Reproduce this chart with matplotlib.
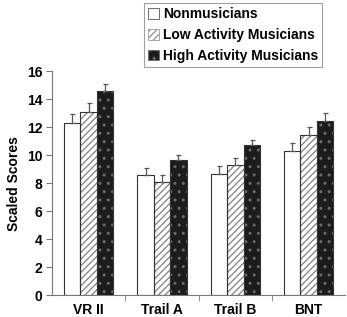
import matplotlib
matplotlib.use("Agg")
import matplotlib.pyplot as plt
import numpy as np
from matplotlib.patches import Patch

plt.rcParams['font.family'] = ['Liberation Sans', 'DejaVu Sans']
plt.rcParams['font.weight'] = 'bold'
plt.rcParams['hatch.linewidth'] = 1.0

categories = ["VR II", "Trail A", "Trail B", "BNT"]
series = ["Nonmusicians", "Low Activity Musicians", "High Activity Musicians"]
means = {
    "Nonmusicians": [12.3, 8.55, 8.64, 10.3],
    "Low Activity Musicians": [13.1, 8.07, 9.29, 11.4],
    "High Activity Musicians": [14.6, 9.64, 10.7, 12.45],
}
errors = {
    "Nonmusicians": [0.62, 0.5, 0.56, 0.57],
    "Low Activity Musicians": [0.6, 0.53, 0.47, 0.6],
    "High Activity Musicians": [0.48, 0.36, 0.37, 0.53],
}
yticks = [0, 2, 4, 6, 8, 10, 12, 14, 16]

fig = plt.figure(figsize=(3.47, 3.17), dpi=100)
ax = fig.add_axes([0.150, 0.069, 0.845, 0.707])

x = np.arange(len(categories))
w = 0.225
offsets = [-w, 0, w]
styles = [
    dict(face="white", hatch=None, hcolor=None),
    dict(face="white", hatch="/////", hcolor="#8a8a8a"),
    dict(face="#1c1c1c", hatch="..", hcolor="#6a6a6a"),
]
for s, off, st in zip(series, offsets, styles):
    vals = means[s]
    ax.bar(x + off, vals, width=w, color=st["face"], hatch=st["hatch"],
           edgecolor=st["hcolor"] if st["hcolor"] else st["face"], linewidth=0, zorder=2)
    ax.bar(x + off, vals, width=w, fill=False, edgecolor="#333333", linewidth=0.8, zorder=3)
    ax.errorbar(x + off, vals, yerr=[np.zeros(len(vals)), errors[s]], fmt="none",
                ecolor="#555555", elinewidth=0.9, capsize=1.8, capthick=0.9, zorder=4)

ax.set_xlim(-0.5, 3.5)
ax.set_ylim(0, 16)
ax.set_yticks(yticks)
ax.set_yticklabels([str(t) for t in yticks], fontsize=10, fontweight="bold")
ax.set_xticks(x)
ax.set_xticklabels(categories, fontsize=10, fontweight="bold")
ax.tick_params(axis="x", length=0, pad=6)
ax.set_xticks([0.5, 1.5, 2.5], minor=True)
ax.tick_params(axis="x", which="minor", length=4, direction="out", color="#777777")
ax.tick_params(axis="y", length=4, direction="out", color="#777777", pad=3)
for sp in ["top", "right"]:
    ax.spines[sp].set_visible(False)
for sp in ["left", "bottom"]:
    ax.spines[sp].set_color("#777777")
    ax.spines[sp].set_linewidth(0.8)
ax.set_ylabel("Scaled Scores", fontsize=10, fontweight="bold", labelpad=4)

handles = [
    Patch(facecolor="white", edgecolor="#555555", linewidth=0.6),
    Patch(facecolor="white", edgecolor="#9a9a9a", hatch="/////", linewidth=0.6),
    Patch(facecolor="#1c1c1c", edgecolor="#6a6a6a", hatch="..", linewidth=0.6),
]
leg = fig.legend(handles, series, loc="upper left", bbox_to_anchor=(0.415, 0.99),
                 fontsize=10, frameon=True, fancybox=False, handlelength=0.75,
                 handleheight=0.75, handletextpad=0.3, labelspacing=0.5,
                 borderpad=0.3, borderaxespad=0)
leg.get_frame().set_edgecolor("#888888")
leg.get_frame().set_linewidth(0.8)
for t in leg.get_texts():
    t.set_fontweight("bold")

fig.savefig("out.png", dpi=100)
